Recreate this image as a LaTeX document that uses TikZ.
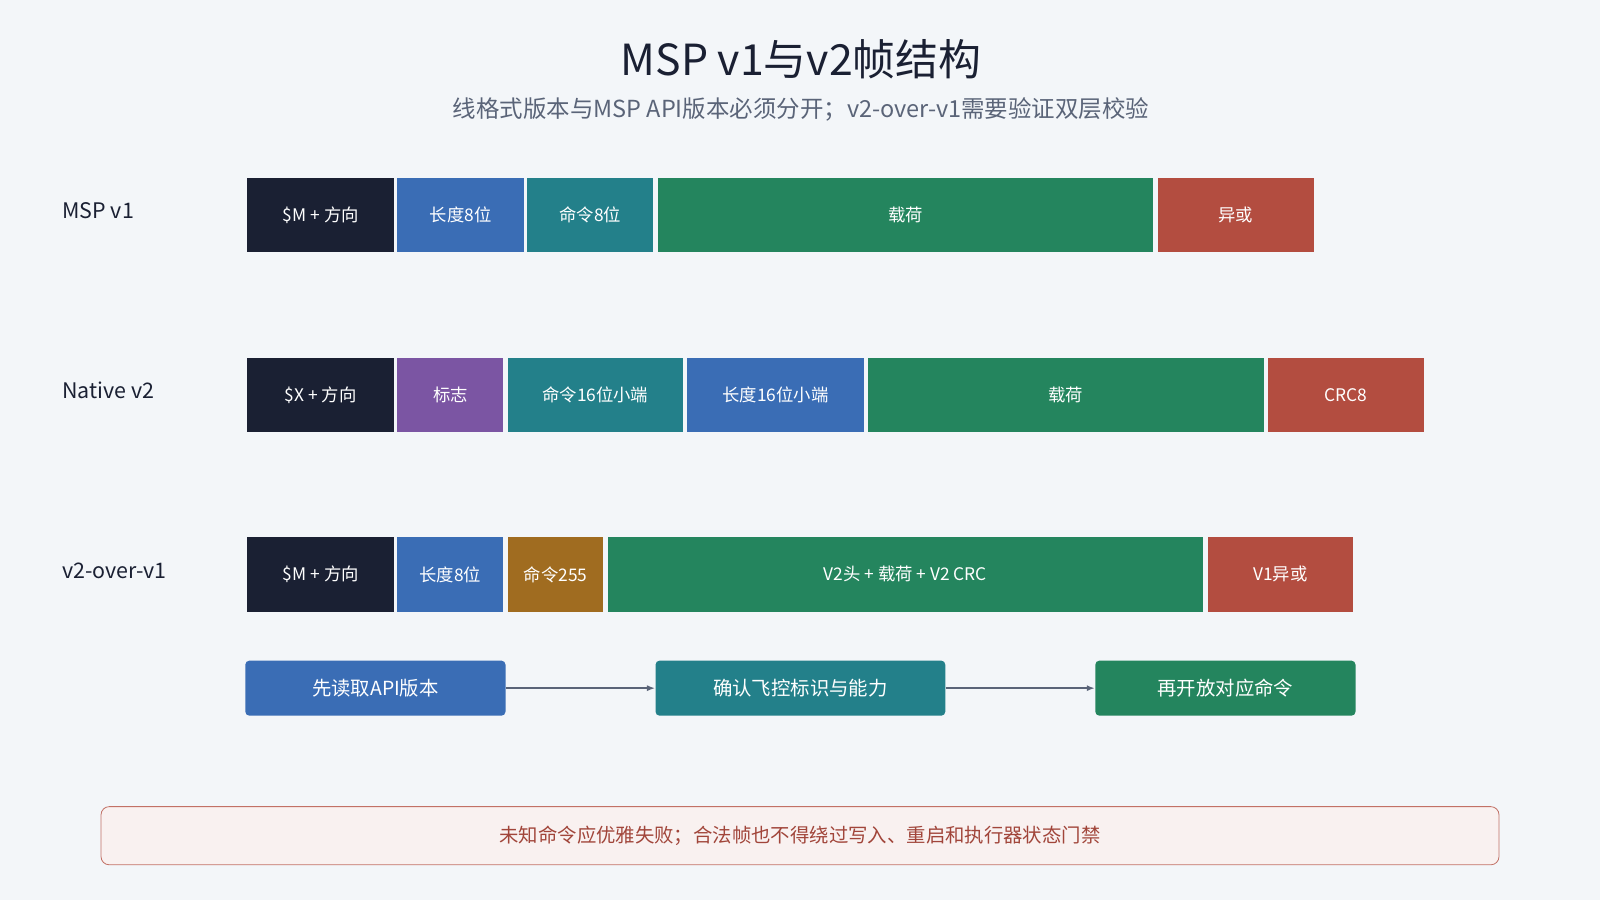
\documentclass[tikz,border=0pt]{standalone}
\usepackage{fontspec}
\setmainfont{Noto Sans CJK SC}
\usetikzlibrary{arrows.meta,positioning}
\definecolor{bg}{HTML}{F3F6F9}
\definecolor{cdark}{HTML}{1A2033}
\definecolor{cblue}{HTML}{3A6DB5}
\definecolor{cteal}{HTML}{23808A}
\definecolor{cgreen}{HTML}{24855E}
\definecolor{cred}{HTML}{B34D40}
\definecolor{cpurple}{HTML}{7B55A3}
\definecolor{corange}{HTML}{A06C20}
\definecolor{cgray}{HTML}{5A6478}
\tikzset{
    field/.style = {
        anchor=north west, inner sep=0pt, minimum height=36.5pt,
        text=white, font=\fontsize{8.5}{10}\selectfont,
        },
    check step/.style = {
        anchor=north west, inner sep=0pt, minimum height=27pt,
        text=white, rounded corners=2pt, font=\fontsize{9.5}{11}\selectfont,
        },
    rowlabel/.style = {
        anchor=west, font=\fontsize{10.5}{12}\selectfont, text=cdark,
        },
    flow/.style = {
        draw=cgray, line width=1.2pt, -{Latex[length=4pt]},
        },
}
\begin{document}
\begin{tikzpicture}[x=0.5pt,y=-0.5pt]
    \fill[bg] (0,0) rectangle (1568,882);
    \node[font=\fontsize{21}{24}\selectfont, text=cdark] (title) at (785,58) {MSP v1与v2帧结构};
    \node[font=\fontsize{11.5}{13}\selectfont, text=cgray] (sub) at (785,107) {线格式版本与MSP API版本必须分开；v2-over-v1需要验证双层校验};

    % MSP v1
    \node[rowlabel] (l1) at (54,206) {MSP v1};
    \node[field, fill=cdark,  minimum width=72pt]  (a1) at (242,174) {\$M + 方向};
    \node[field, fill=cblue,  minimum width=62pt]  (a2) at (389,174) {长度8位};
    \node[field, fill=cteal,  minimum width=62pt]  (a3) at (516,174) {命令8位};
    \node[field, fill=cgreen, minimum width=243pt] (a4) at (644,174) {载荷};
    \node[field, fill=cred,   minimum width=76.5pt](a5) at (1134,174) {异或};

    % Native v2
    \node[rowlabel] (l2) at (54,383) {Native v2};
    \node[field, fill=cdark,   minimum width=72pt]  (b1) at (242,350) {\$X + 方向};
    \node[field, fill=cpurple, minimum width=52pt]  (b2) at (389,350) {标志};
    \node[field, fill=cteal,   minimum width=86pt]  (b3) at (497,350) {命令16位小端};
    \node[field, fill=cblue,   minimum width=86.5pt](b4) at (673,350) {长度16位小端};
    \node[field, fill=cgreen,  minimum width=194pt] (b5) at (850,350) {载荷};
    \node[field, fill=cred,    minimum width=76.5pt](b6) at (1242,350) {CRC8};

    % v2-over-v1
    \node[rowlabel] (l3) at (54,559) {v2-over-v1};
    \node[field, fill=cdark,   minimum width=72pt]  (c1) at (242,526) {\$M + 方向};
    \node[field, fill=cblue,   minimum width=52pt]  (c2) at (389,526) {长度8位};
    \node[field, fill=corange, minimum width=47pt]  (c3) at (497,526) {命令255};
    \node[field, fill=cgreen,  minimum width=292pt] (c4) at (595,526) {V2头 + 载荷 + V2 CRC};
    \node[field, fill=cred,    minimum width=71.5pt](c5) at (1183,526) {V1异或};

    % checks
    \node[check step, fill=cblue,  minimum width=127.5pt] (s1) at (240,647) {先读取API版本};
    \node[check step, fill=cteal,  minimum width=142pt]   (s2) at (642,647) {确认飞控标识与能力};
    \node[check step, fill=cgreen, minimum width=127.5pt] (s3) at (1073,647) {再开放对应命令};
    \draw[flow] (s1) -- (s2);
    \draw[flow] (s2) -- (s3);

    \node[draw=cred!80, fill=cred!8, rounded corners=4pt, minimum width=685pt, minimum height=28.5pt,
          text=cred!90!black, font=\fontsize{9.5}{11}\selectfont] (note) at (784,819)
          {未知命令应优雅失败；合法帧也不得绕过写入、重启和执行器状态门禁};
\end{tikzpicture}
\end{document}
